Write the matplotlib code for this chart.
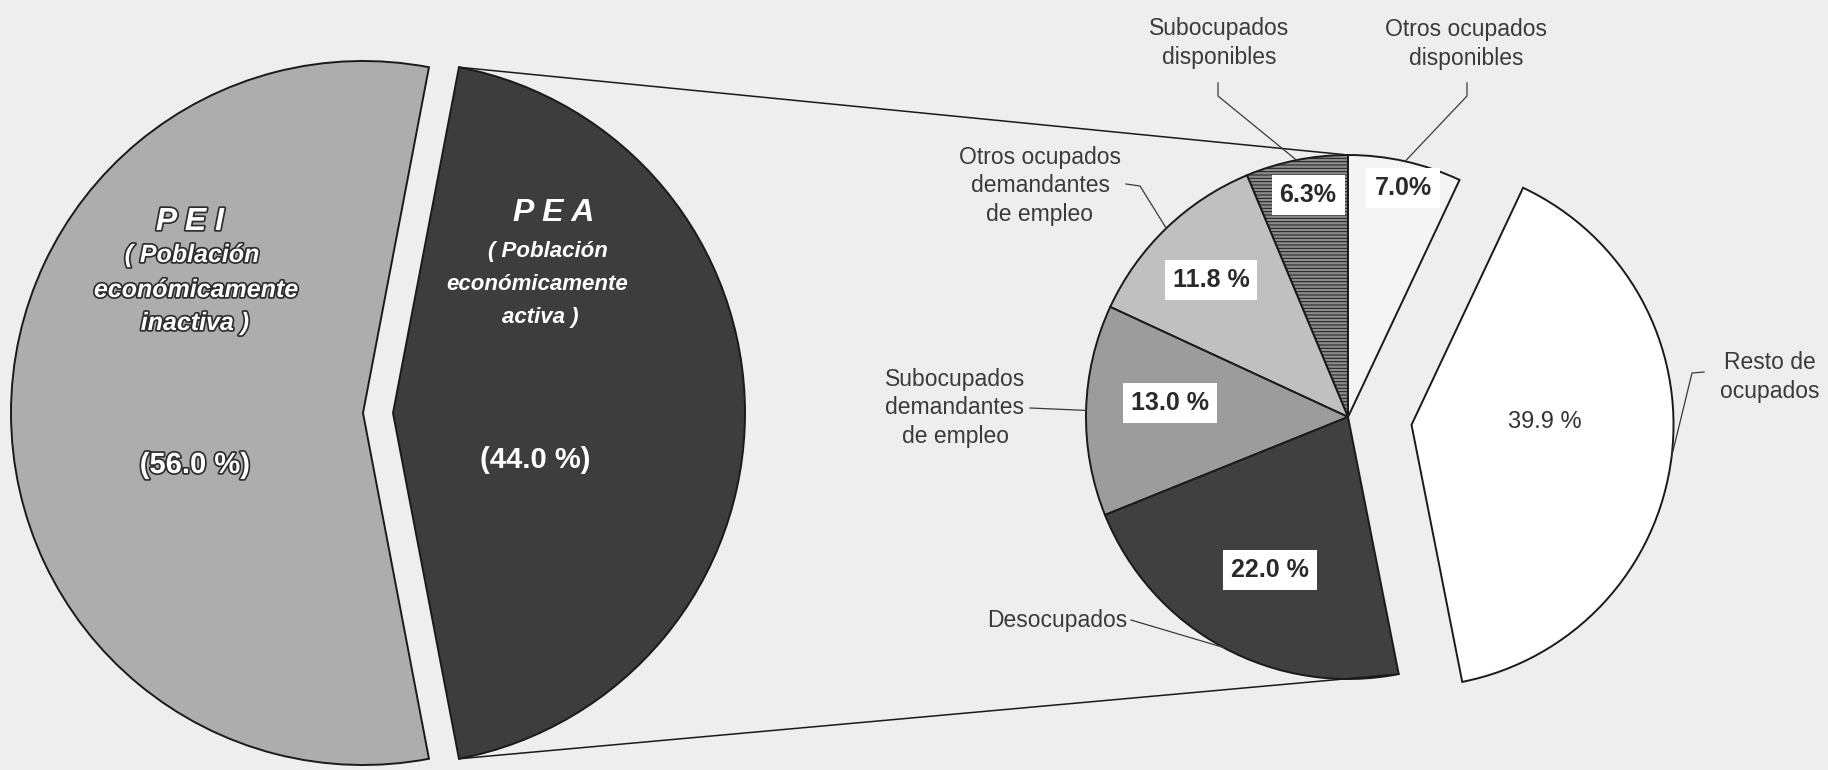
import numpy as np
import matplotlib.pyplot as plt
import matplotlib.patheffects as pe

plt.rcParams['font.family'] = ['Liberation Sans', 'DejaVu Sans']
plt.rcParams['hatch.linewidth'] = 0.7

# big pie: PEI / PEA
big_names = ['PEI', 'PEA']
big_values = [56.0, 44.0]
big_colors = ['#adadad', '#3d3d3d']

# breakdown of the PEA (counter-clockwise from 12 o'clock)
small_names = [
    'Subocupados\ndisponibles',
    'Otros ocupados\ndemandantes\nde empleo',
    'Subocupados\ndemandantes\nde empleo',
    'Desocupados',
    'Resto de\nocupados',
    'Otros ocupados\ndisponibles',
]
small_values = [6.3, 11.8, 13.0, 22.0, 39.9, 7.0]
small_pct = ['6.3%', '11.8 %', '13.0 %', '22.0 %', '39.9 %', '7.0%']
small_colors = ['#8c8c8c', '#c0c0c0', '#9c9c9c', '#404040', '#ffffff', '#f4f4f4']

H = 770
BIG_C = (378, 357)
BIG_R = 352
SMALL_C = (1348, 353)
SMALL_R = 262


def arc_point(w, frac=0.5):
    a = np.deg2rad(w.theta1 + frac * (w.theta2 - w.theta1))
    return w.center[0] + w.r * np.cos(a), w.center[1] + w.r * np.sin(a)


fig = plt.figure(figsize=(18.28, 7.70), dpi=100, facecolor='#eeeeee')
ax = fig.add_axes([0, 0, 1, 1])
ax.set_facecolor('#eeeeee')

edge = dict(edgecolor='#1a1a1a', linewidth=1.4)

big_start = 180 - big_values[0] * 3.6 / 2
big_wedges, _ = ax.pie(
    big_values,
    colors=big_colors,
    startangle=big_start,
    center=BIG_C,
    radius=BIG_R,
    explode=[15, 15],
    wedgeprops=edge,
    frame=False
)

small_wedges, _ = ax.pie(
    small_values,
    colors=small_colors,
    startangle=90,
    center=SMALL_C,
    radius=SMALL_R,
    explode=[0, 0, 0, 0, 64, 0],
    wedgeprops=edge,
    frame=False
)
small_wedges[0].set_hatch('-----')

# lines joining the PEA wedge to the breakdown pie
pea = big_wedges[1]
top_big = arc_point(pea, 1.0)
bot_big = arc_point(pea, 0.0)
top_small = arc_point(small_wedges[0], 0.0)
bot_small = arc_point(small_wedges[3], 1.0)
ax.plot([top_big[0], top_small[0]], [top_big[1], top_small[1]], color='#1a1a1a', lw=1.1)
ax.plot([bot_big[0], bot_small[0]], [bot_big[1], bot_small[1]], color='#1a1a1a', lw=1.1)

# text inside the big pie
pea_txt = dict(color='white', fontweight='bold', style='italic', ha='center', va='center')
ax.text(554, H - 213, 'P E A', fontsize=23, **pea_txt)
ax.text(548, H - 251, '( Población', fontsize=16, **pea_txt)
ax.text(537, H - 284, 'económicamente', fontsize=16, **pea_txt)
ax.text(540, H - 318, 'activa )', fontsize=16, **pea_txt)
ax.text(535, H - 460, '(44.0 %)', fontsize=21, color='white', fontweight='bold',
        ha='center', va='center')

outline = [pe.withStroke(linewidth=2.5, foreground='#2e2e2e')]
ax.text(190, H - 222, 'P E I', fontsize=23, path_effects=outline, **pea_txt)
ax.text(192, H - 255, '( Población', fontsize=18, path_effects=outline, **pea_txt)
ax.text(196, H - 290, 'económicamente', fontsize=18, path_effects=outline, **pea_txt)
ax.text(195, H - 323, 'inactiva )', fontsize=18, path_effects=outline, **pea_txt)
ax.text(195, H - 465, '(56.0 %)', fontsize=21, color='white', fontweight='bold',
        ha='center', va='center', path_effects=outline)

# percentages inside the breakdown pie
pct_pos = [(1308, 195), (1211, 280), (1170, 403), (1270, 570), (1545, 422), (1403, 188)]
for i, (x, y) in enumerate(pct_pos):
    if small_names[i].startswith('Resto'):
        ax.text(x, H - y, small_pct[i], fontsize=17, color='#333333',
                ha='center', va='center')
    else:
        ax.text(x, H - y, small_pct[i], fontsize=18, fontweight='bold', color='#2a2a2a',
                ha='center', va='center',
                bbox=dict(boxstyle='square,pad=0.32', fc='white', ec='none'))

# callout labels and leader lines
lab = dict(fontsize=16.5, color='#3a3a3a', linespacing=1.3)
ax.text(1219, H - 43, small_names[0], ha='center', va='center', **lab)
ax.text(1466, H - 44, small_names[5], ha='center', va='center', **lab)
ax.text(1040, H - 186, small_names[1], ha='center', va='center', **lab)
ax.text(955, H - 408, small_names[2], ha='center', va='center', **lab)
ax.text(1127, H - 620, small_names[3], ha='right', va='center', **lab)
ax.text(1770, H - 377, small_names[4], ha='center', va='center', **lab)

leaders = [
    (0, [(1218, 83), (1218, 96)]),
    (5, [(1467, 83), (1467, 96)]),
    (1, [(1126, 184), (1140, 186)]),
    (2, [(1030, 408)]),
    (3, [(1131, 620)]),
    (4, [(1704, 372), (1692, 373)]),
]
for idx, pts in leaders:
    ex, ey = arc_point(small_wedges[idx], 0.5)
    xs = [p[0] for p in pts] + [ex]
    ys = [H - p[1] for p in pts] + [ey]
    ax.plot(xs, ys, color='#3a3a3a', lw=0.9)

ax.set_xlim(0, 1828)
ax.set_ylim(0, H)
ax.set_aspect('equal')
ax.axis('off')

fig.savefig('out.png', dpi=100, facecolor=fig.get_facecolor())
